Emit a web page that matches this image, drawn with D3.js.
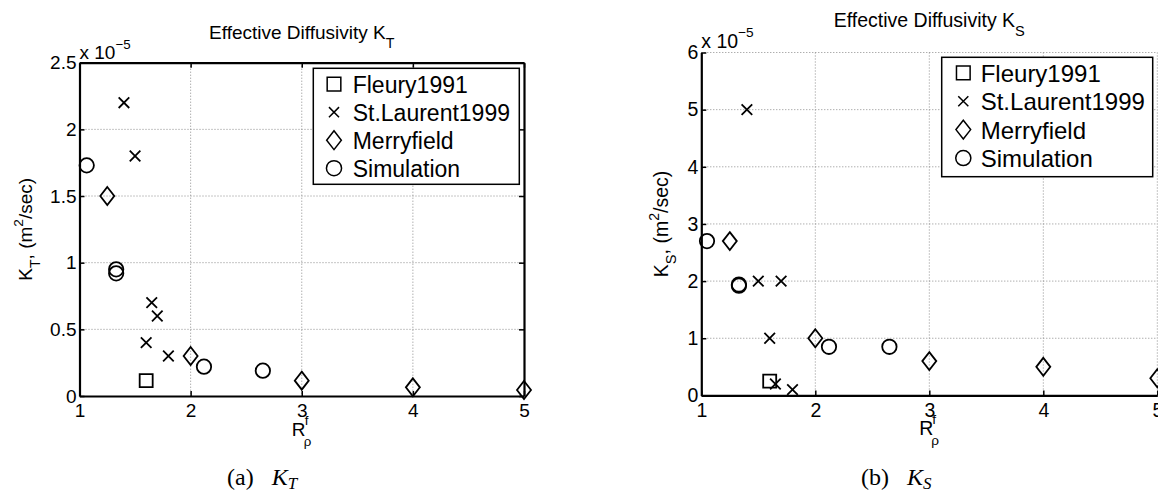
<!DOCTYPE html>
<html><head><meta charset="utf-8">
<script src="https://cdn.jsdelivr.net/npm/d3@7"></script>
<style>
body{margin:0;background:#fff}
svg{display:block}
text{font-family:"Liberation Sans",Arial,Helvetica,sans-serif;fill:#000}
</style>
</head><body>
<svg id="c" width="1158" height="494"></svg>
<script>
// ---------- data ----------
const xTicks = [1, 2, 3, 4, 5];
const yTicksKT = [0, 0.5, 1, 1.5, 2, 2.5];
const yTicksKS = [0, 1, 2, 3, 4, 5, 6];
const seriesNames = ["Fleury1991", "St.Laurent1999", "Merryfield", "Simulation"];
const seriesSymbols = ["square", "cross", "diamond", "circle"];

// K_T panel (units of 1e-5 m^2/sec)
const fleuryKT = [[1.6, 0.115]];
const stLaurentKT = [[1.4, 2.2], [1.5, 1.8], [1.65, 0.7], [1.7, 0.6], [1.6, 0.4], [1.8, 0.3]];
const merryfieldKT = [[1.25, 1.5], [2, 0.3], [3, 0.115], [4, 0.065], [5, 0.045]];
const simulationKT = [[1.065, 1.73], [1.33, 0.95], [1.33, 0.92], [2.12, 0.22], [2.65, 0.19]];

// K_S panel (units of 1e-5 m^2/sec)
const fleuryKS = [[1.6, 0.25]];
const stLaurentKS = [[1.4, 5], [1.5, 2], [1.7, 2], [1.6, 1], [1.65, 0.2], [1.8, 0.1]];
const merryfieldKS = [[1.25, 2.7], [2, 1], [3, 0.6], [4, 0.5], [5, 0.3]];
const simulationKS = [[1.05, 2.7], [1.33, 1.94], [1.33, 1.92], [2.12, 0.85], [2.65, 0.85]];

// ---------- drawing ----------
const svg = d3.select("#c");
svg.append("rect").attr("width", 1158).attr("height", 494).attr("fill", "#fff");

function markerPath(type, s) {
  if (type === "square") { const h = 6.5 * s; return `M${-h},${-h}H${h}V${h}H${-h}Z`; }
  if (type === "cross") { const h = 5.3 * s; return `M${-h},${-h}L${h},${h}M${-h},${h}L${h},${-h}`; }
  if (type === "diamond") { const w = 7 * s, h = 9 * s; return `M0,${-h}L${w},0L0,${h}L${-w},0Z`; }
  const r = 7.2 * s;
  return `M${r},0A${r},${r} 0 1,1 ${-r},0A${r},${r} 0 1,1 ${r},0Z`;
}

function panel(o) {
  const g = svg.append("g");
  const x = d3.scaleLinear().domain([1, 5]).range([o.left, o.right]);
  const y = d3.scaleLinear().domain([0, o.yMax]).range([o.bottom, o.top]);
  const grid = g.append("g").attr("stroke", "#8c8c8c").attr("stroke-width", 1).attr("stroke-dasharray", "1,2");
  grid.selectAll(".gx").data(o.gridX).join("line")
    .attr("x1", d => x(d)).attr("x2", d => x(d)).attr("y1", o.top).attr("y2", o.bottom);
  grid.selectAll(".gy").data(o.gridY).join("line")
    .attr("y1", d => y(d)).attr("y2", d => y(d)).attr("x1", o.left).attr("x2", o.right);

  const fs = o.fs;
  const ax = g.append("g").attr("transform", `translate(0,${o.bottom})`)
    .call(d3.axisBottom(x).tickValues(xTicks).tickFormat(d3.format("d")).tickSize(-5).tickSizeOuter(0).tickPadding(8));
  const ay = g.append("g").attr("transform", `translate(${o.left},0)`)
    .call(d3.axisLeft(y).tickValues(o.yTicks).tickFormat(d => String(d)).tickSize(-5).tickSizeOuter(0).tickPadding(3));
  [ax, ay].forEach(a => {
    a.select(".domain").attr("stroke", "#000").attr("stroke-width", 2.2);
    a.selectAll(".tick line").attr("stroke", "#000").attr("stroke-width", 1.5);
    a.selectAll(".tick text").attr("font-size", fs).attr("fill", "#000")
      .attr("font-family", '"Liberation Sans",Arial,sans-serif');
  });
  if (o.box) {
    const at = g.append("g").attr("transform", `translate(0,${o.top})`)
      .call(d3.axisTop(x).tickValues(xTicks).tickFormat("").tickSize(-5).tickSizeOuter(0));
    const ar = g.append("g").attr("transform", `translate(${o.right},0)`)
      .call(d3.axisRight(y).tickValues(o.yTicks).tickFormat("").tickSize(-5).tickSizeOuter(0));
    [at, ar].forEach(a => {
      a.select(".domain").attr("stroke", "#000").attr("stroke-width", 2.2);
      a.selectAll(".tick line").attr("stroke", "#000").attr("stroke-width", 1.5);
    });
  }

  // markers
  const mk = g.append("g").attr("fill", "none").attr("stroke", "#000").attr("stroke-width", 1.8);
  o.series.forEach((data, i) => {
    mk.selectAll(".m" + i).data(data).join("path")
      .attr("transform", d => `translate(${x(d[0])},${y(d[1])})`)
      .attr("d", markerPath(seriesSymbols[i], 1));
  });

  // exponent label
  const ex = g.append("text").attr("x", o.left).attr("y", o.expY).attr("font-size", fs);
  ex.append("tspan").text("x 10");
  ex.append("tspan").attr("font-size", fs * 0.7).attr("dy", -fs * 0.55).text("\u22125");

  // title
  const t = g.append("text").attr("x", (o.left + o.right) / 2).attr("y", o.titleY)
    .attr("text-anchor", "middle").attr("font-size", fs);
  t.append("tspan").text("Effective Diffusivity K");
  t.append("tspan").attr("font-size", fs * 0.75).attr("dy", fs * 0.48).text(o.sub);

  // y label
  const yl = g.append("text").attr("transform", `translate(${o.ylabX},${(o.top + o.bottom) / 2}) rotate(-90)`)
    .attr("text-anchor", "middle").attr("font-size", fs);
  yl.append("tspan").text("K");
  yl.append("tspan").attr("font-size", fs * 0.75).attr("dy", fs * 0.4).text(o.sub);
  yl.append("tspan").attr("dy", -fs * 0.4).text(", (m");
  yl.append("tspan").attr("font-size", fs * 0.72).attr("dy", -fs * 0.45).text("2");
  yl.append("tspan").attr("dy", fs * 0.45).text("/sec)");

  // x label R^f_rho
  const cx = x(3) - 10;
  g.append("text").attr("x", cx).attr("y", o.bottom + 40).attr("font-size", fs).text("R");
  g.append("text").attr("x", cx + 13).attr("y", o.bottom + 29).attr("font-size", fs * 0.7).text("f");
  g.append("text").attr("x", cx + 12).attr("y", o.bottom + 50).attr("font-size", fs * 0.7).text("\u03c1");

  // legend
  const L = o.legend;
  g.append("rect").attr("x", L.x).attr("y", L.y).attr("width", L.w).attr("height", L.h)
    .attr("fill", "#fff").attr("stroke", "#000").attr("stroke-width", 1.5);
  seriesNames.forEach((n, i) => {
    const by = L.y + L.first + i * L.step;
    g.append("path").attr("transform", `translate(${L.x + L.mx},${by - L.fs * 0.37})`)
      .attr("d", markerPath(seriesSymbols[i], seriesSymbols[i] === "cross" ? 0.95 : 1.05))
      .attr("fill", "none").attr("stroke", "#000").attr("stroke-width", 1.5);
    g.append("text").attr("x", L.x + L.tx).attr("y", by).attr("font-size", L.fs).text(n);
  });

  // caption
  const cap = g.append("text").attr("x", o.capX).attr("y", 485)
    .attr("font-size", 24)
    .style("font-family", '"Liberation Serif","Times New Roman",serif');
  cap.append("tspan").text(o.capLetter);
  cap.append("tspan").attr("dx", 18).attr("font-style", "italic").text("K");
  cap.append("tspan").attr("font-style", "italic").attr("font-size", 17).attr("dy", 4).text(o.sub);
}

panel({
  left: 79.5, right: 524, top: 62.7, bottom: 396, yMax: 2.5, yTicks: yTicksKT,
  gridX: [2, 3, 4], gridY: [0.5, 1, 1.5, 2], box: true, fs: 19,
  series: [fleuryKT, stLaurentKT, merryfieldKT, simulationKT],
  expY: 59, titleY: 39, sub: "T", ylabX: 32,
  legend: { x: 313.3, y: 68.3, w: 206, h: 116, first: 24.4, step: 28, mx: 20.7, tx: 39.4, fs: 23 },
  capX: 227, capLetter: "(a)"
});

panel({
  left: 701.3, right: 1157.3, top: 52.5, bottom: 395.4, yMax: 6, yTicks: yTicksKS,
  gridX: [2, 3, 4, 5], gridY: [1, 2, 3, 4, 5, 6], box: false, fs: 19.5,
  series: [fleuryKS, stLaurentKS, merryfieldKS, simulationKS],
  expY: 48, titleY: 26.7, sub: "S", ylabX: 668,
  legend: { x: 941.7, y: 57.3, w: 211, h: 119.4, first: 24.4, step: 28.4, mx: 21.6, tx: 39, fs: 24 },
  capX: 861, capLetter: "(b)"
});
</script>
</body></html>
